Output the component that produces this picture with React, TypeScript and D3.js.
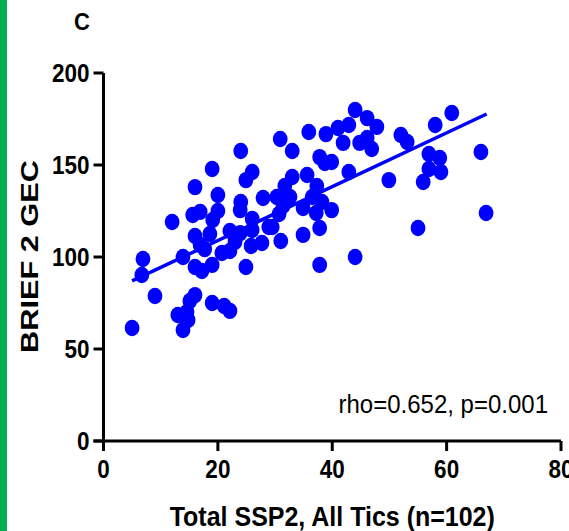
import React, { useEffect } from 'react';
import * as d3 from 'd3';

// Total SSP2 score (all tics) and BRIEF 2 GEC for each participant
const SSP2 = [
  44.0, 46.1, 47.8, 42.9, 41.0, 38.9, 35.9, 30.9, 33.0, 41.9,
  44.8, 46.1, 46.9, 52.0, 53.1, 60.9, 58.0, 56.9, 58.8, 56.9,
  59.0, 55.9, 49.9, 66.0, 66.9, 55.0, 44.0, 37.8, 37.8, 38.7,
  39.9, 42.9, 33.0, 35.6, 31.7, 37.3, 30.3, 32.6, 36.5, 38.2,
  34.9, 37.2, 31.4, 30.7, 39.9, 27.9, 29.5, 31.0, 34.9, 37.8,
  24.0, 19.0, 26.0, 24.9, 16.0, 20.0, 24.0, 23.9, 16.9, 15.6,
  20.0, 19.1, 12.0, 26.0, 28.9, 26.0, 22.1, 23.9, 16.0, 18.6,
  23.0, 16.9, 20.7, 25.8, 27.7, 13.9, 6.9, 16.0, 17.2, 19.0,
  24.9, 6.7, 9.0, 16.0, 15.1, 14.6, 13.0, 14.8, 13.9, 19.0,
  21.1, 22.1, 5.0, 22.1, 17.7,
];
const GEC = [
  179.9, 175.5, 170.7, 171.7, 170.1, 166.8, 167.9, 164.1, 157.6, 162.0,
  162.0, 164.7, 158.7, 166.3, 162.5, 178.3, 171.7, 156.0, 153.8, 147.8,
  146.2, 140.8, 141.8, 157.1, 123.9, 115.8, 100.0, 95.7, 154.3, 151.1,
  151.6, 146.2, 143.5, 144.6, 138.6, 138.6, 132.6, 132.6, 132.6, 129.9,
  126.6, 123.9, 127.7, 123.4, 125.5, 132.1, 116.3, 108.7, 112.0, 115.8,
  157.6, 147.8, 146.2, 141.8, 138.0, 133.7, 129.9, 125.5, 124.5, 122.8,
  125.0, 120.1, 119.0, 120.7, 116.3, 114.7, 114.1, 113.0, 111.4, 112.5,
  108.2, 106.5, 102.2, 106.0, 107.6, 100.0, 98.9, 94.6, 92.4, 95.7,
  94.6, 90.2, 78.8, 79.3, 76.1, 70.1, 68.5, 65.8, 60.3, 75.0,
  73.4, 70.7, 61.4, 103.3, 104.3,
];

const X_TICKS = [0, 20, 40, 60, 80];
const Y_TICKS = [0, 50, 100, 150, 200];

// fitted line as drawn in the figure
const FIT_SLOPE = 1.463;
const FIT_INTERCEPT = 79.7;
const FIT_RANGE = [5, 67];

const STATS_TEXT = 'rho=0.652, p=0.001';
const BLUE = '#0000ff';

export default function App() {
  useEffect(() => {
    document.body.style.margin = '0';
  }, []);

  const width = 569;
  const height = 531;

  const x = d3.scaleLinear().domain([0, 80]).range([103.5, 561]);
  const y = d3.scaleLinear().domain([0, 200]).range([441, 73]);

  const fitLine = d3.line<number>()
    .x(d => x(d))
    .y(d => y(FIT_INTERCEPT + FIT_SLOPE * d));

  const points = SSP2.map((v, i) => (
    <ellipse key={'pt' + i} cx={x(v)} cy={y(GEC[i])} rx={7.4} ry={8.2} fill={BLUE} />
  ));

  const font = 'Liberation Sans, Arial, sans-serif';

  return (
    <svg width={width} height={height} style={{ display: 'block' }} fontFamily={font}>
      <rect x={0} y={0} width={width} height={height} fill="#fff" />
      <rect x={0} y={0} width={7} height={height} fill="#00b050" />

      <text transform="translate(74, 30) scale(1, 1.05)" fontSize={22} fontWeight="bold" fill="#000">C</text>

      {points}

      <path d={fitLine(FIT_RANGE) || ''} stroke={BLUE} strokeWidth={3.5} fill="none" />

      {/* axes */}
      <g stroke="#000" strokeWidth={3} fill="none">
        <line x1={x(0)} x2={x(0)} y1={y(200)} y2={y(0) + 10} />
        <line x1={x(0) - 10} x2={x(80)} y1={y(0)} y2={y(0)} />
        {Y_TICKS.map(t => (
          <line key={'yt' + t} x1={x(0) - 10} x2={x(0)} y1={y(t)} y2={y(t)} />
        ))}
        {X_TICKS.map(t => (
          <line key={'xt' + t} x1={x(t)} x2={x(t)} y1={y(0)} y2={y(0) + 10} />
        ))}
      </g>

      {Y_TICKS.map(t => (
        <text
          key={'yl' + t}
          transform={`translate(${x(0) - 14}, ${y(t) + 9}) scale(1, 1.14)`}
          textAnchor="end"
          fontSize={22.5}
          fontWeight="bold"
          fill="#000"
        >
          {t}
        </text>
      ))}
      {X_TICKS.map(t => (
        <text
          key={'xl' + t}
          transform={`translate(${x(t)}, 478) scale(1, 1.14)`}
          textAnchor="middle"
          fontSize={22.5}
          fontWeight="bold"
          fill="#000"
        >
          {t}
        </text>
      ))}

      <text
        transform="translate(548, 413) scale(0.98, 1.06)"
        textAnchor="end"
        fontSize={24.5}
        fill="#000"
      >
        {STATS_TEXT}
      </text>

      <text
        transform={`translate(${(x(0) + x(80)) / 2}, 526) scale(1, 1.08)`}
        textAnchor="middle"
        fontSize={25}
        fontWeight="bold"
        fill="#000"
      >
        Total SSP2, All Tics (n=102)
      </text>

      <text
        transform={`translate(38, 256.5) rotate(-90) scale(1.28, 1)`}
        textAnchor="middle"
        fontSize={24}
        fontWeight="bold"
        fill="#000"
      >
        BRIEF 2 GEC
      </text>
    </svg>
  );
}
